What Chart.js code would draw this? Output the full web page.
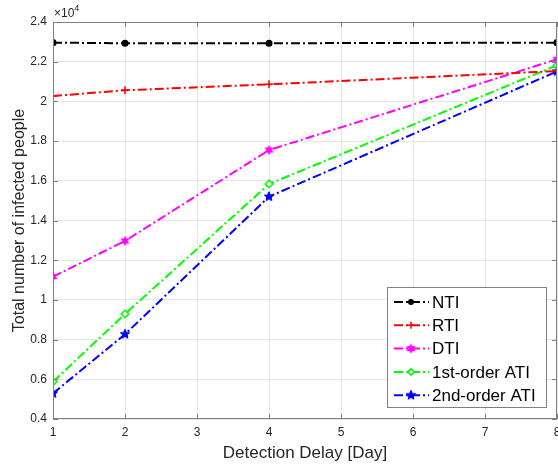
<!DOCTYPE html>
<html>
<head>
<meta charset="utf-8">
<script src="https://cdn.jsdelivr.net/npm/chart.js@4"></script>
<style>
  html, body { margin: 0; padding: 0; background: #fff; }
  #wrap { width: 558px; height: 468px; }
</style>
</head>
<body>
<div id="wrap"><canvas id="chart" width="558" height="468"></canvas></div>
<script>
// Detection delay (days) and total infected people per strategy
const delays = [1, 2, 4, 8];
const nti = [22960, 22930, 22930, 22960];
const rti = [20270, 20560, 20860, 21530];
const dti = [11170, 12970, 17550, 22120];
const ati1 = [5880, 9290, 15840, 21820];
const ati2 = [5290, 8270, 15200, 21510];
const yTicks = [4000, 6000, 8000, 10000, 12000, 14000, 16000, 18000, 20000, 22000, 24000];

const FONT = '"Liberation Sans", Arial, sans-serif';
const AXIS = '#808080';
const TEXT = '#262626';
const DASH = [9, 3, 2, 3];

// small star canvases used as point markers
function starMarker(n, color, r, inner) {
    const c = document.createElement('canvas');
    const s = Math.ceil(r * 2 + 4);
    c.width = s; c.height = s;
    const g = c.getContext('2d');
    g.translate(s / 2, s / 2);
    g.beginPath();
    for (let i = 0; i < n * 2; i++) {
        const rad = i % 2 === 0 ? r : r * inner;
        const a = -Math.PI / 2 + i * Math.PI / n;
        g.lineTo(Math.cos(a) * rad, Math.sin(a) * rad);
    }
    g.closePath();
    g.fillStyle = color;
    g.strokeStyle = color;
    g.lineWidth = 1;
    g.fill();
    g.stroke();
    return c;
}

const toXY = arr => arr.map((v, i) => ({ x: delays[i], y: v }));

function series(label, data, color, style, radius, fill) {
    return {
        label: label,
        data: toXY(data),
        borderColor: color,
        backgroundColor: fill,
        borderWidth: 2,
        borderDash: DASH,
        pointStyle: style,
        pointRadius: radius,
        pointBorderColor: color,
        pointBackgroundColor: fill,
        pointBorderWidth: 1.5,
        tension: 0
    };
}

const datasets = [
    series('NTI', nti, '#000000', 'circle', 2.8, '#000000'),
    series('RTI', rti, '#ff0000', 'cross', 4, '#ff0000'),
    series('DTI', dti, '#ff00ff', starMarker(6, '#ff00ff', 4.5, 0.5), 4, '#ff00ff'),
    series('1st-order ATI', ati1, '#00ff00', 'rectRot', 3.8, '#ffffff'),
    series('2nd-order ATI', ati2, '#0000ff', starMarker(5, '#0000ff', 5, 0.45), 4, '#0000ff')
];

// box, inward ticks, exponent label and legend in MATLAB style
const matlabFrame = {
    id: 'matlabFrame',
    afterDatasetsDraw(chart) {
        const ctx = chart.ctx;
        const a = chart.chartArea;
        const xs = chart.scales.x, ys = chart.scales.y;
        ctx.save();
        ctx.strokeStyle = AXIS;
        ctx.lineWidth = 1;
        ctx.strokeRect(a.left + 0.5, a.top + 0.5, a.right - a.left - 1, a.bottom - a.top - 1);
        ctx.beginPath();
        for (let v = 1; v <= 8; v++) {
            const px = Math.round(xs.getPixelForValue(v)) + 0.5;
            ctx.moveTo(px, a.bottom); ctx.lineTo(px, a.bottom - 5);
            ctx.moveTo(px, a.top); ctx.lineTo(px, a.top + 5);
        }
        yTicks.forEach(v => {
            const py = Math.round(ys.getPixelForValue(v)) + 0.5;
            ctx.moveTo(a.left, py); ctx.lineTo(a.left + 5, py);
            ctx.moveTo(a.right, py); ctx.lineTo(a.right - 5, py);
        });
        ctx.stroke();

        // x10^4 exponent
        ctx.fillStyle = TEXT;
        ctx.textBaseline = 'alphabetic';
        ctx.font = '12px ' + FONT;
        ctx.fillText('\u00d710', a.left + 1, a.top - 5);
        const w = ctx.measureText('\u00d710').width;
        ctx.font = '9px ' + FONT;
        ctx.fillText('4', a.left + 1 + w, a.top - 11);

        // legend
        const bx = 387, by = 287, bw = 159, bh = 120, row = 23.3;
        ctx.fillStyle = '#ffffff';
        ctx.fillRect(bx, by, bw, bh);
        ctx.strokeStyle = AXIS;
        ctx.strokeRect(bx + 0.5, by + 0.5, bw, bh);
        ctx.font = '17px ' + FONT;
        ctx.textBaseline = 'middle';
        chart.data.datasets.forEach((ds, i) => {
            const y = by + 15 + i * row;
            ctx.strokeStyle = ds.borderColor;
            ctx.lineWidth = 2;
            ctx.setLineDash(DASH);
            ctx.beginPath();
            ctx.moveTo(bx + 7, y); ctx.lineTo(bx + 42, y);
            ctx.stroke();
            ctx.setLineDash([]);
            ctx.fillStyle = ds.pointBackgroundColor;
            ctx.lineWidth = ds.pointBorderWidth;
            Chart.helpers.drawPoint(ctx, {
                pointStyle: ds.pointStyle, radius: ds.pointRadius - 0.5, rotation: 0, borderWidth: ds.pointBorderWidth
            }, bx + 24, y);
            ctx.fillStyle = '#000000';
            ctx.fillText(ds.label, bx + 45, y + 1);
        });
        ctx.restore();
    }
};

new Chart(document.getElementById('chart'), {
    type: 'line',
    data: { datasets: datasets },
    plugins: [matlabFrame],
    options: {
        responsive: false,
        animation: false,
        layout: { autoPadding: false, padding: { top: 22, right: 1, left: 0, bottom: 0 } },
        plugins: { legend: { display: false }, tooltip: { enabled: false } },
        scales: {
            x: {
                type: 'linear',
                min: 1, max: 8,
                afterFit: s => { s.height = 49; s.paddingLeft = 0; s.paddingRight = 0; },
                border: { display: false },
                grid: { color: '#e6e6e6', drawTicks: false },
                ticks: { stepSize: 1, padding: 6, color: TEXT, font: { family: FONT, size: 12 } },
                title: { display: true, text: 'Detection Delay [Day]', color: TEXT,
                         font: { family: FONT, size: 17 }, padding: { top: 2, bottom: 4 } }
            },
            y: {
                min: 4000, max: 24000,
                afterFit: s => { s.width = 53; s.paddingTop = 0; s.paddingBottom = 0; },
                afterBuildTicks: s => { s.ticks = yTicks.map(v => ({ value: v })); },
                border: { display: false },
                grid: { color: '#e6e6e6', drawTicks: false },
                ticks: {
                    padding: 6, color: TEXT, font: { family: FONT, size: 12 },
                    callback: v => String(Number((v / 10000).toFixed(1)))
                },
                title: { display: true, text: 'Total number of infected people', color: TEXT,
                         font: { family: FONT, size: 16 }, padding: { top: 10, bottom: 0 } }
            }
        }
    }
});
</script>
</body>
</html>
